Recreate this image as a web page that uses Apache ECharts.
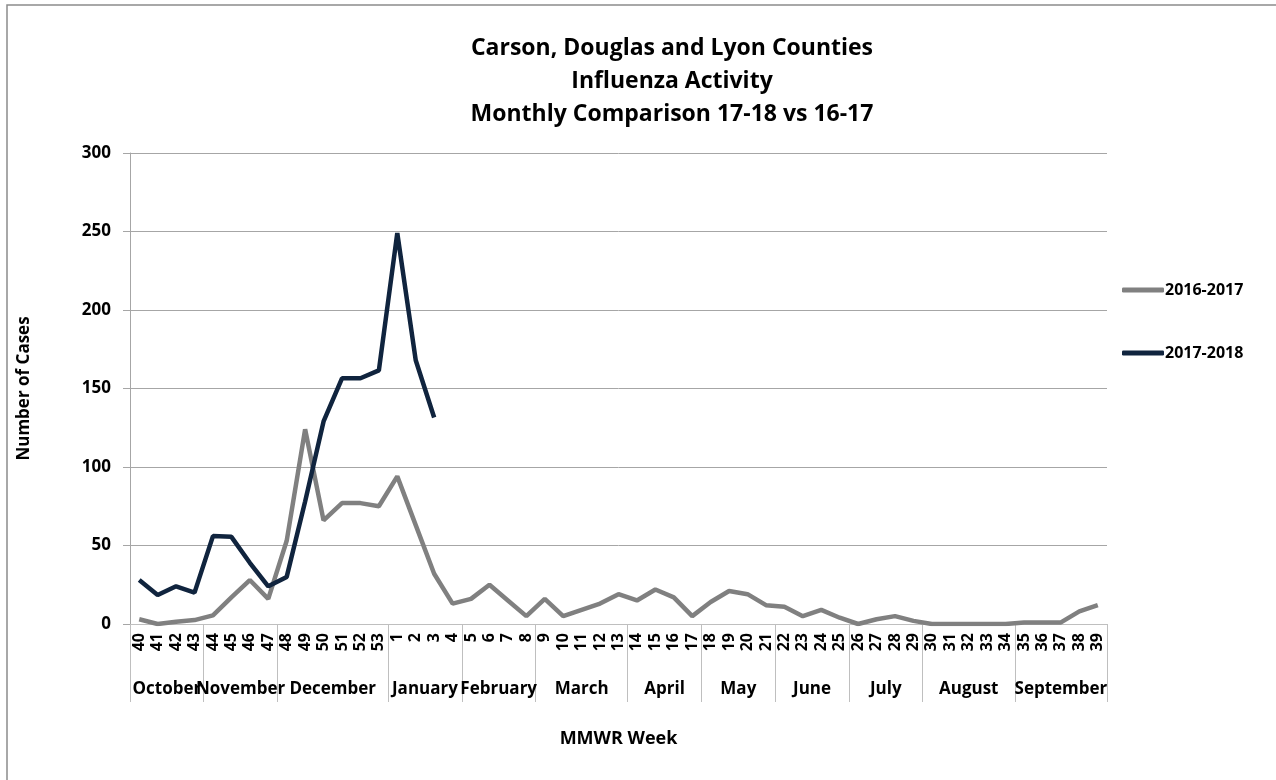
<!DOCTYPE html>
<html>
<head>
<meta charset="utf-8">
<script src="https://cdn.jsdelivr.net/npm/echarts@6/dist/echarts.min.js"></script>
<style>
html,body{margin:0;padding:0;background:#fff;}
#chart{width:1276px;height:780px;}
</style>
</head>
<body>
<div id="chart"></div>
<script>
// Data
const weeks = ['40','41','42','43','44','45','46','47','48','49','50','51','52','53',
  '1','2','3','4','5','6','7','8','9','10','11','12','13','14','15','16','17','18','19','20',
  '21','22','23','24','25','26','27','28','29','30','31','32','33','34','35','36','37','38','39'];
const months = ['October','November','December','January','February','March','April','May','June','July','August','September'];
const monthWeekCounts = [4,4,6,4,4,5,4,4,4,4,5,5];
const season1617 = [3,0,1.5,2.5,5.5,17,28,16,53,124,66,77,77,75,94,63,32,13,16,25,15,5,16,5,9,13,19,15,22,17,5,14,21,19,12,11,5,9,4,0,3,5,2,0,0,0,0,0,1,1,1,8,12];
const season1718 = [28,18.5,24,20,56,55.5,39,24,30,78,129,156.5,156.5,161.5,249,168,131.5];
const yTicks = {min:0, max:300, interval:50};

// derived month boundaries / centers
const monthBounds = [0];
monthWeekCounts.forEach(c => monthBounds.push(monthBounds[monthBounds.length-1] + c));
const monthCenters = monthWeekCounts.map((c,i) => monthBounds[i] + c/2);
const evenCenters = monthCenters.filter((c,i) => i % 2 === 0);
const oddCenters = monthCenters.filter((c,i) => i % 2 === 1);
const monthName = v => { const i = monthCenters.findIndex(c => Math.abs(c - v) < 1e-6); return i >= 0 ? months[i] : ''; };

const FONT = '"Open Sans"';
const monthLabelStyle = {fontFamily: FONT, fontSize: 17, fontWeight: 'bold', color: '#000'};
const chart = echarts.init(document.getElementById('chart'));
chart.setOption({
  animation: false,
  backgroundColor: '#fff',
  textStyle: {fontFamily: FONT},
  title: {
    text: 'Carson, Douglas and Lyon Counties\nInfluenza Activity\nMonthly Comparison 17-18 vs 16-17',
    left: 667, top: 27, textAlign: 'center',
    textStyle: {fontFamily: FONT, fontSize: 23, fontWeight: 'bold', color: '#000', lineHeight: 33}
  },
  legend: {
    orient: 'vertical', left: 1117, top: 277, itemGap: 47,
    icon: 'roundRect', itemWidth: 42, itemHeight: 5,
    textStyle: {fontFamily: FONT, fontSize: 16, fontWeight: 'bold', color: '#000', padding: [0,0,0,-4]},
    data: ['2016-2017','2017-2018']
  },
  graphic: [{
    type: 'rect', shape: {x: 7, y: 5, width: 1300, height: 800},
    style: {fill: 'none', stroke: '#8c8c8c', lineWidth: 1.5}, silent: true, z: -1
  }],
  grid: {left: 130, right: 169, top: 153, bottom: 156, containLabel: false},
  xAxis: [{
    type: 'category', data: weeks, boundaryGap: true,
    name: 'MMWR Week', nameLocation: 'middle', nameGap: 106,
    nameTextStyle: {fontFamily: FONT, fontSize: 18, fontWeight: 'bold', color: '#000'},
    axisLine: {lineStyle: {color: '#bfbfbf', width: 1}},
    axisTick: {interval: 0, length: 36, lineStyle: {color: '#bfbfbf'}},
    axisLabel: {interval: 0, rotate: 90, margin: 9, fontFamily: FONT, fontSize: 16, fontWeight: 'bold', color: '#000'}
  }, {
    type: 'value', min: 0, max: 53, position: 'bottom', gridIndex: 0,
    axisLine: {show: false}, splitLine: {show: false},
    axisTick: {show: true, length: 78, customValues: monthBounds, lineStyle: {color: '#bfbfbf'}},
    axisLabel: Object.assign({show: true, customValues: evenCenters, margin: 57, hideOverlap: false,
      showMinLabel: true, showMaxLabel: true, formatter: monthName}, monthLabelStyle)
  }, {
    type: 'value', min: 0, max: 53, position: 'bottom', gridIndex: 0,
    axisLine: {show: false}, splitLine: {show: false}, axisTick: {show: false},
    axisLabel: Object.assign({show: true, customValues: oddCenters, margin: 57, hideOverlap: false,
      showMinLabel: true, showMaxLabel: true, formatter: monthName}, monthLabelStyle)
  }],
  yAxis: {
    type: 'value', min: yTicks.min, max: yTicks.max, interval: yTicks.interval,
    name: 'Number of Cases', nameLocation: 'middle', nameGap: 97, nameRotate: 90,
    nameTextStyle: {fontFamily: FONT, fontSize: 17, fontWeight: 'bold', color: '#000'},
    axisLine: {show: true, lineStyle: {color: '#a6a6a6'}},
    axisTick: {show: true, length: 7, lineStyle: {color: '#a6a6a6'}},
    splitLine: {lineStyle: {color: '#a6a6a6', width: 1}},
    axisLabel: {margin: 19, fontFamily: FONT, fontSize: 17, fontWeight: 'bold', color: '#000'}
  },
  series: [{
    name: '2016-2017', type: 'line', data: season1617, xAxisIndex: 0,
    symbol: 'none', lineStyle: {color: '#808080', width: 4.5}, itemStyle: {color: '#808080'}, z: 2
  }, {
    name: '2017-2018', type: 'line', data: season1718, xAxisIndex: 0,
    symbol: 'none', lineStyle: {color: '#10243e', width: 4.5}, itemStyle: {color: '#10243e'}, z: 3
  }]
});
</script>
</body>
</html>
